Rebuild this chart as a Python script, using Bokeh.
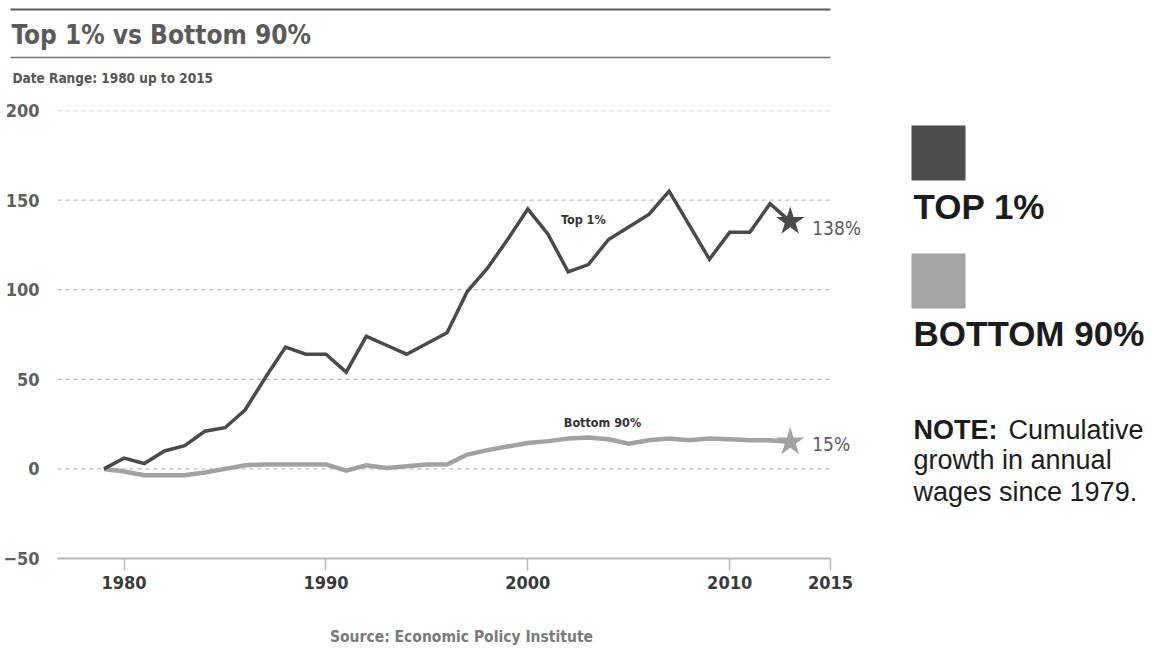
from bokeh.plotting import figure
from bokeh.layouts import column, row
from bokeh.models import Range1d, FixedTicker, Label
from bokeh.core.properties import value
from bokeh.embed import file_html
from bokeh.resources import INLINE

# ---------------- data ----------------
years = list(range(1979, 2014))
top_1 = [0, 6, 3, 10, 13, 21, 23, 33, 51, 68, 64, 64, 54, 74, 69, 64, 70, 76, 99, 112,
         128, 145, 131, 110, 114, 128, 135, 142, 155, 136, 117, 132, 132, 148, 138]
bottom_90 = [0, -1.5, -3.5, -3.5, -3.5, -2, 0, 2, 2.5, 2.5, 2.5, 2.5, -1, 2, 0.5, 1.5, 2.5, 2.5, 8, 10.5,
             12.5, 14.5, 15.5, 17, 17.5, 16.5, 14, 16, 17, 16, 17, 16.5, 16, 16, 15]
x_ticks = [1980, 1990, 2000, 2010, 2015]
y_ticks = [-50, 0, 50, 100, 150, 200]
series_names = ["Top 1%", "Bottom 90%"]
legend_names = ["TOP 1%", "BOTTOM 90%"]
TITLE = "Top 1% vs Bottom 90%"
SUBTITLE = "Date Range: 1980 up to 2015"
SOURCE = "Source: Economic Policy Institute"
NOTE_LINES = ["growth in annual", "wages since 1979."]

# ---------------- styles ----------------
NARROW = "'Noto Sans ExtraCondensed', 'Noto Sans Condensed', 'Liberation Sans Narrow', 'DejaVu Sans Condensed', sans-serif"
SANS = "'Liberation Sans', Arial, sans-serif"
DARK = "#4a4a4c"
LIGHT = "#a2a2a5"
X_START, X_END = 1976.7, 2017.87


def blank(w, h, xr, yr, **kw):
    f = figure(width=w, height=h, x_range=Range1d(*xr), y_range=Range1d(*yr),
               x_axis_type=None, y_axis_type=None, toolbar_location=None, title=None,
               output_backend="svg", outline_line_color=None, **kw)
    f.grid.visible = False
    return f


# ---------------- header (page coordinates) ----------------
hdr = blank(1153, 100, (0, 1153), (100, 0), min_border=0)
hdr.segment(x0=[10, 10], y0=[9, 57], x1=[830, 830], y1=[9, 57],
            line_color=["#5e5e60", "#727274"], line_width=[2, 1.5])
hdr.text(x=[11], y=[34], text=[TITLE], text_font=value(NARROW), text_font_size="26px",
         text_font_style="bold", text_color="#5a5a5c", text_baseline="middle")
hdr.text(x=[12], y=[77], text=[SUBTITLE], text_font=value(NARROW), text_font_size="13.5px",
         text_font_style="bold", text_color="#555557", text_baseline="middle")

# ---------------- main chart ----------------
p = figure(width=888, height=512, x_range=Range1d(X_START, X_END), y_range=Range1d(-50, 200),
           toolbar_location=None, output_backend="svg", title=None,
           min_border_left=55, min_border_right=0, min_border_top=10, min_border_bottom=54,
           outline_line_color=None)

p.xaxis.ticker = FixedTicker(ticks=x_ticks)
p.yaxis.ticker = FixedTicker(ticks=y_ticks)
p.xaxis.bounds = (X_START, x_ticks[-1])
p.grid.visible = False

# dashed horizontal grid lines, ending at the last x tick
grid_vals = [t for t in y_ticks if t > y_ticks[0]]
p.segment(x0=[X_START] * len(grid_vals), x1=[x_ticks[-1]] * len(grid_vals), y0=grid_vals, y1=grid_vals,
          line_color="#bdbdbd", line_width=1.3, line_dash="4 4")

p.xaxis.axis_line_color = "#b8b8b8"
p.xaxis.axis_line_width = 2
p.xaxis.major_tick_line_color = "#b8b8b8"
p.xaxis.major_tick_line_width = 1.5
p.xaxis.major_tick_out = 12
p.xaxis.major_tick_in = 0
p.xaxis.minor_tick_line_color = None
p.xaxis.major_label_standoff = 5
p.xaxis.major_label_text_font = NARROW
p.xaxis.major_label_text_font_size = "18px"
p.xaxis.major_label_text_font_style = "bold"
p.xaxis.major_label_text_color = "#3a3a3c"

p.yaxis.axis_line_color = None
p.yaxis.major_tick_line_color = None
p.yaxis.minor_tick_line_color = None
p.yaxis.major_label_standoff = 12
p.yaxis.major_label_text_font = NARROW
p.yaxis.major_label_text_font_size = "18px"
p.yaxis.major_label_text_font_style = "bold"
p.yaxis.major_label_text_color = "#5f5f61"

p.line(years, bottom_90, line_color=LIGHT, line_width=4.5, line_join="miter")
p.line(years, top_1, line_color=DARK, line_width=3.5, line_join="miter")
p.scatter([years[-1]], [top_1[-1]], marker="star", size=30, fill_color=DARK, line_color=None)
p.scatter([years[-1]], [bottom_90[-1]], marker="star", size=30, fill_color=LIGHT, line_color=None)

p.text(x=[2002.75], y=[139], text=[series_names[0]], text_font=value(NARROW), text_font_size="12.5px",
       text_font_style="bold", text_color="#333335", text_align="center", text_baseline="middle")
p.text(x=[2003.7], y=[26], text=[series_names[1]], text_font=value(NARROW), text_font_size="12.5px",
       text_font_style="bold", text_color="#333335", text_align="center", text_baseline="middle")

p.add_layout(Label(x=years[-1], y=top_1[-1], x_offset=22, y_offset=-6, text=f"{top_1[-1]}%",
                   text_font=NARROW, text_font_size="19px", text_color="#5a5a5c",
                   text_baseline="middle"))
p.add_layout(Label(x=years[-1], y=bottom_90[-1], x_offset=22, y_offset=-2, text=f"{bottom_90[-1]}%",
                   text_font=NARROW, text_font_size="19px", text_color="#5a5a5c",
                   text_baseline="middle"))

# ---------------- legend / note (page coordinates, frame = page y 110..558) ----------------
leg = blank(265, 512, (888, 1153), (558, 110),
            min_border_left=0, min_border_right=0, min_border_top=10, min_border_bottom=54)
leg.quad(left=[911, 911], right=[965, 965], top=[125, 253], bottom=[180, 308],
         fill_color=["#4d4d4f", "#a3a3a6"], line_color=None)
leg.text(x=[913, 913], y=[206, 333], text=legend_names, text_font=value(SANS), text_font_size="35px",
         text_font_style="bold", text_color="#1c1c1c", text_baseline="middle")
leg.text(x=[913], y=[429], text=["NOTE:"], text_font=value(SANS), text_font_size="27px",
         text_font_style="bold", text_color="#1c1c1c", text_baseline="middle")
leg.text(x=[1008], y=[429], text=["Cumulative"], text_font=value(SANS), text_font_size="27px",
         text_color="#1c1c1c", text_baseline="middle")
leg.text(x=[913, 913], y=[459, 491], text=NOTE_LINES, text_font=value(SANS), text_font_size="27px",
         text_color="#1c1c1c", text_baseline="middle")

# ---------------- footer (page coordinates) ----------------
ftr = blank(1153, 37, (0, 1153), (649, 612), min_border=0)
ftr.text(x=[461], y=[636], text=[SOURCE], text_font=value(NARROW), text_font_size="15.5px",
         text_font_style="bold", text_color="#7a7a7c", text_align="center", text_baseline="middle")

layout = column(hdr, row(p, leg), ftr)
open("out.html", "w").write(file_html(layout, INLINE))
